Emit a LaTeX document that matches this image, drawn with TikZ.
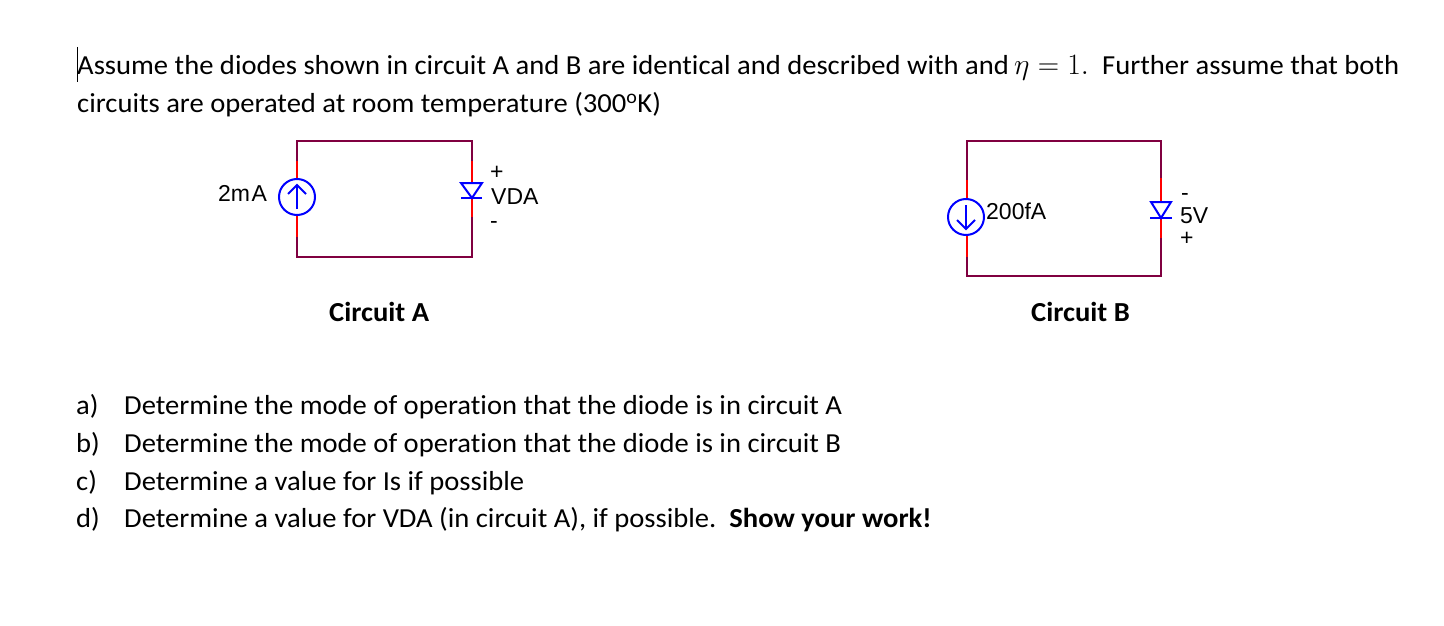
\documentclass[tikz,border=0pt]{standalone}
\usepackage{fontspec}
\setmainfont[FakeStretch=1.04,Ligatures=NoCommon]{Carlito}
\newfontfamily\labelfont{Liberation Sans}
\usepackage{amsmath}
\definecolor{wirecol}{RGB}{128,0,64}
\definecolor{leadcol}{RGB}{255,0,0}
\definecolor{partcol}{RGB}{0,0,255}
\tikzset{
  txt/.style={anchor=base west, inner sep=0pt, font=\fontsize{27.5}{30}\selectfont},
  hdr/.style={txt, font=\bfseries\fontsize{27.5}{30}\selectfont},
  lbl/.style={anchor=base west, inner sep=0pt, font=\labelfont\fontsize{23}{28}\selectfont},
  wire/.style={draw=wirecol, line width=2pt},
  leadw/.style={draw=leadcol, line width=2pt},
  part/.style={draw=partcol, line width=2pt},
  srcnode/.style={circle, draw=partcol, line width=2pt, minimum size=36pt, inner sep=0pt}
}
\begin{document}
\begin{tikzpicture}[x=1pt, y=-1pt]
  \useasboundingbox (0,0) rectangle (1444,626);

  \draw[line width=1pt] (77,47) -- (77,82);
  \node[txt] (l1) at (77,75) {Assume the diodes shown in circuit A and B are identical and described with and};
  \node[txt] (l1m) at (1014,75) {\scalebox{1.19}{$\eta = 1.$}};
  \node[txt] (l1r) at (1102,75) {Further assume that both};
  \node[txt] (l2) at (77,113) {circuits are operated at room temperature (300\textsuperscript{o}K)};

  % circuit A
  \coordinate (tl) at (297,141);
  \coordinate (tr) at (472,141);
  \coordinate (bl) at (297,257);
  \coordinate (br) at (472,257);
  \coordinate (ua) at (297,161);
  \coordinate (la) at (297,237);
  \coordinate (va) at (472,161);
  \coordinate (wa) at (472,217);
  \coordinate (ka) at (472,183);
  \coordinate (kb) at (472,198);
  \node[srcnode] (isa) at (297,197) {};
  \draw[wire] (ua) -- (tl) -- (tr) -- (va);
  \draw[wire] (la) -- (bl) -- (br) -- (wa);
  \draw[leadw] (ua) -- (isa.north);
  \draw[leadw] (la) -- (isa.south);
  \draw[leadw] (va) -- (ka);
  \draw[leadw] (kb) -- (wa);
  \draw[part] (297,209) -- (297,185);
  \draw[part] (288,194) -- (297,185) -- (306,194);
  \draw[part] (461,183) -- (482,183) -- (472,198) -- cycle;
  \draw[part] (461,198) -- (482,198);
  \node[lbl] (ia) at (218,201) {2m\kern1.5pt A};
  \node[lbl] (pa) at (490,179) {+};
  \node[lbl] (da) at (491,204) {VDA};
  \node[lbl] (ma) at (490,228) {-};
  \node[hdr] (ca) at (329,321) {Circuit A};

  % circuit B
  \coordinate (tl2) at (967,141);
  \coordinate (tr2) at (1161,141);
  \coordinate (bl2) at (967,276);
  \coordinate (br2) at (1161,276);
  \coordinate (ub) at (967,180);
  \coordinate (lb) at (967,257);
  \coordinate (vb) at (1161,178);
  \coordinate (wb) at (1161,238);
  \coordinate (kc) at (1161,202);
  \coordinate (kd) at (1161,218);
  \node[srcnode] (isb) at (966,217) {};
  \draw[wire] (ub) -- (tl2) -- (tr2) -- (vb);
  \draw[wire] (lb) -- (bl2) -- (br2) -- (wb);
  \draw[leadw] (ub) -- (ub |- isb.north);
  \draw[leadw] (lb) -- (lb |- isb.south);
  \draw[leadw] (vb) -- (kc);
  \draw[leadw] (kd) -- (wb);
  \draw[part] (966,205) -- (966,229);
  \draw[part] (957,220) -- (966,229) -- (975,220);
  \draw[part] (1151,202) -- (1171,202) -- (1161,218) -- cycle;
  \draw[part] (1150,218) -- (1172,218);
  \node[lbl] (ib) at (986,219) {200fA};
  \node[lbl] (mb) at (1181,200) {-};
  \node[lbl] (db) at (1180,223) {5V};
  \node[lbl] (pb) at (1180,245) {+};
  \node[hdr] (cb) at (1031,321) {Circuit B};

  % questions
  \node[txt] (qa) at (76,414) {a)};
  \node[txt] (ta) at (124,414) {Determine the mode of operation that the diode is in circuit A};
  \node[txt] (qb) at (76,452) {b)};
  \node[txt] (tb) at (124,452) {Determine the mode of operation that the diode is in circuit B};
  \node[txt] (qc) at (76,490) {c)};
  \node[txt] (tc) at (124,490) {Determine a value for Is if possible};
  \node[txt] (qd) at (76,527) {d)};
  \node[txt] (td) at (124,527) {Determine a value for VDA (in circuit A), if possible.\ \ \textbf{Show your work!}};
\end{tikzpicture}
\end{document}
